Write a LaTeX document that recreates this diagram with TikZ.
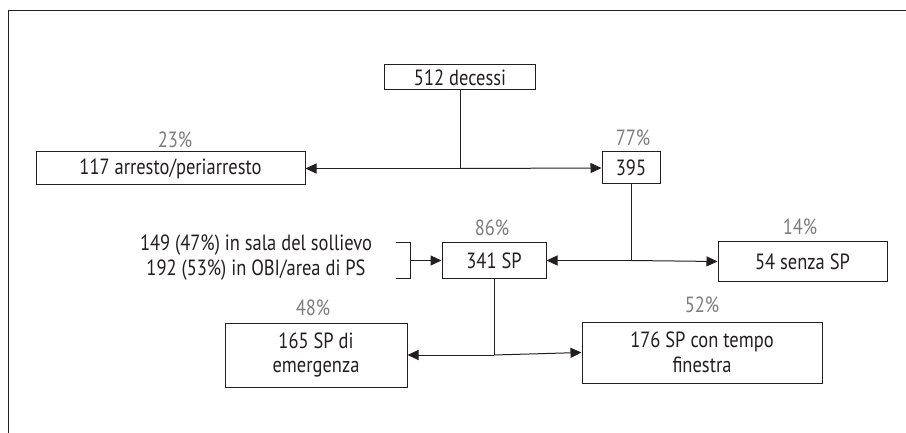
\documentclass[tikz,border=0pt]{standalone}
\usepackage{fontspec}
\setmainfont{PT Sans}[FakeStretch=0.84]
\usetikzlibrary{arrows.meta}
\begin{document}
\begin{tikzpicture}[x=1pt, y=-1pt, font=\fontsize{22}{24.5}\selectfont,
  boite/.style={draw=trait, line width=1pt, inner sep=0pt, align=center, text=trait},
  pourcent/.style={text=gris},
  fleche/.style={-{Triangle[length=11pt,width=10pt]}, line width=1pt, draw=trait}]
  % Définir les couleurs du schéma
  \definecolor{trait}{RGB}{35,31,32}
  \definecolor{gris}{RGB}{125,125,125}

  \useasboundingbox (0,0) rectangle (906,433);

  % Cadre
  \draw[trait, line width=1pt] (8,433) -- (8,11) -- (906,11);

  % Les boites
  \node[boite, minimum width=151pt, minimum height=25pt] (dec) at (460,77.5) {512 decessi};
  \node[boite, minimum width=269pt, minimum height=33pt] (arr) at (170.5,168.5) {117 arresto/periarresto};
  \node[boite, minimum width=58pt, minimum height=32pt] (n395) at (631,168) {395};
  \node[boite, minimum width=104pt, minimum height=35pt] (sp) at (494,260.5) {341 SP};
  \node[boite, minimum width=169pt, minimum height=39pt] (senza) at (802.5,261.5) {54 senza SP};
  \node[boite, minimum width=182pt, minimum height=64pt] (emer) at (316,355) {165 SP di\\emergenza};
  \node[boite, minimum width=240pt, minimum height=61pt] (fin) at (702,352.5) {176 SP con tempo\\finestra};

  % Les pourcentages
  \node[pourcent] (p23) at (175,140) {23\%};
  \node[pourcent] (p77) at (633,138) {77\%};
  \node[pourcent] (p86) at (492,228) {86\%};
  \node[pourcent] (p14) at (800,227) {14\%};
  \node[pourcent] (p48) at (313,308) {48\%};
  \node[pourcent] (p52) at (702,305) {52\%};

  % Origine des SP
  \node[align=center, text=trait] (orig) at (256,257.5) {149 (47\%) in sala del sollievo\\192 (53\%) in OBI/area di PS};
  \coordinate (crochet) at ([xshift=-31pt]sp.west);
  \draw[trait, line width=1pt] ([xshift=-46pt]sp.north west) -- ([xshift=-31pt]sp.north west)
    -- ([xshift=-31pt]sp.south west) -- ([xshift=-46pt]sp.south west);
  \draw[fleche] (crochet) -- (sp.west);

  % Les embranchements
  \coordinate (j1) at (dec.south |- arr.east);
  \draw[trait, line width=1pt] (dec.south) -- (j1);
  \draw[fleche] (j1) -- (arr.east);
  \draw[fleche] (j1) -- (n395.west);

  \coordinate (j2) at (n395.south |- sp.east);
  \draw[trait, line width=1pt] (n395.south) -- (j2);
  \draw[fleche] (j2) -- (sp.east);
  \draw[fleche] (j2) -- (senza.west);

  \coordinate (j3) at (sp.south |- emer.east);
  \draw[trait, line width=1pt] (sp.south) -- (j3);
  \draw[fleche] (j3) -- (emer.east);
  \draw[fleche] (j3) -- (fin.west);
\end{tikzpicture}
\end{document}
